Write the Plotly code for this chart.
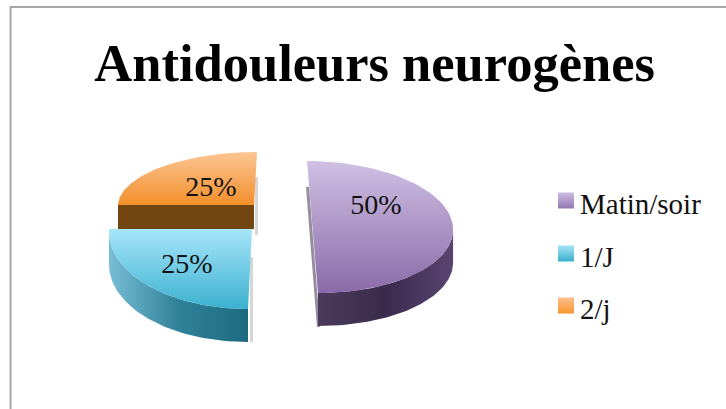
import numpy as np
import plotly.graph_objects as go

# chart data
categories = ["Matin/soir", "1/J", "2/j"]
values = [50, 25, 25]

TITLE = "Antidouleurs neurogènes"
FONT = "Liberation Serif"

# look of each slice, top gradient is top to bottom
top_colors = {
    "Matin/soir": ["#cfc0e3", "#8a6aa8"],
    "1/J": ["#a8e6fb", "#3bb0cf"],
    "2/j": ["#fcc594", "#f28f2b"],
}
legend_colors = {
    "Matin/soir": ["#cdbde0", "#9477b3"],
    "1/J": ["#a6e4f9", "#38afcc"],
    "2/j": ["#fdc08d", "#f7962f"],
}
wall_colors = {
    "Matin/soir": ["#5a4570", "#3a2a4c", "#4a3a5c"],
    "1/J": ["#78bdd6", "#2f8299", "#1d6a80"],
    "2/j": ["#734511", "#734511", "#734511"],
}

# perspective of the exploded 3D pie, in pixels of the page
geometry = {
    "Matin/soir": dict(cx=312.5, cy=227, a=140.5, b=66, skew=0.083, depth=33, label=(376, 207)),
    "1/J": dict(cx=252, cy=229, a=143, b=80, skew=-0.05, depth=33, label=(187, 266)),
    "2/j": dict(cx=254, cy=205, a=136, b=53, skew=-0.057, depth=24, label=(211, 189)),
}
legend_rows = [200.5, 253.5, 305.5]
LEGEND_SWATCH_X = 566
LEGEND_TEXT_X = 580
LEGEND_TEXT_DY = 6


def rim(g, t0, t1, n=60):
    # t is the clockwise angle from 12 o'clock
    t = np.radians(np.linspace(t0, t1, n))
    x = g["cx"] + g["a"] * np.sin(t) - g["skew"] * g["b"] * np.cos(t)
    y = g["cy"] - g["b"] * np.cos(t)
    return x, y


def poly(x, y, **kw):
    return go.Scatter(x=list(x), y=list(y), mode="lines", fill="toself", line=dict(width=0),
                      showlegend=False, hoverinfo="skip", **kw)


def gradient(kind, colors):
    stops = np.linspace(0, 1, len(colors))
    return dict(type=kind, colorscale=[[float(s), c] for s, c in zip(stops, colors)])


# slice angles come from the shares
angles = {}
start = 0
for name, v in zip(categories, values):
    angles[name] = (start, start + v / sum(values) * 360)
    start = angles[name][1]

fig = go.Figure()

# back to front: orange, purple, blue
for name in ["2/j", "Matin/soir", "1/J"]:
    g = geometry[name]
    t0, t1 = angles[name]
    x, y = rim(g, t0, t1)
    px = np.r_[g["cx"], x]
    py = np.r_[g["cy"], y]

    # soft shadow next to the slice
    if name == "Matin/soir":
        sx, sy = rim(g, t0, 180, 2)
        fig.add_trace(poly([sx[0] - 1, sx[1] - 1, sx[1] + 2, sx[0] + 2],
                           [sy[0] + 26, sy[1] + g["depth"] + 1, sy[1] + g["depth"] + 1, sy[0] + 26],
                           fillcolor="rgba(60,50,75,0.55)"))
    elif name == "2/j":
        fig.add_trace(poly([g["cx"] + 1, g["cx"] + 4, g["cx"] + 4, g["cx"] + 1],
                           [g["cy"] - 28, g["cy"] - 28, g["cy"] + 30, g["cy"] + 30],
                           fillcolor="rgba(120,120,120,0.3)"))
    else:
        fig.add_trace(poly([g["cx"] - 2, g["cx"] + 1, g["cx"] + 1, g["cx"] - 2],
                           [g["cy"] + 28, g["cy"] + 28, g["cy"] + g["b"] + g["depth"], g["cy"] + g["b"] + g["depth"]],
                           fillcolor="rgba(120,120,120,0.3)"))

    # wall under the visible rim
    if name == "Matin/soir":
        wx, wy = rim(g, 93, 180)
    elif name == "1/J":
        wx, wy = x, y
    else:
        wx, wy = rim(g, 270, 270, 1)
        wx = np.r_[g["cx"], wx]
        wy = np.r_[g["cy"], wy]
    fig.add_trace(poly(np.r_[wx, wx[::-1]], np.r_[wy, wy[::-1] + g["depth"]],
                       fillgradient=gradient("horizontal", wall_colors[name][::-1] if name == "Matin/soir" else wall_colors[name])))

    # top face
    fig.add_trace(poly(px, py, fillgradient=gradient("vertical", top_colors[name][::-1])))

# data labels
for name, v in zip(categories, values):
    lx, ly = geometry[name]["label"]
    fig.add_trace(go.Scatter(x=[lx], y=[ly], mode="text", text=[f"{v}%"], showlegend=False,
                             hoverinfo="skip", textfont=dict(family=FONT, size=28, color="#111111")))

# legend swatches and names, the native legend leaves too wide a gap between them
for name, row in zip(categories, legend_rows):
    c = legend_colors[name]
    fig.add_trace(go.Scatter(x=[LEGEND_SWATCH_X], y=[row], mode="markers", name=name, showlegend=False,
                             hoverinfo="skip",
                             marker=dict(symbol="square", size=16, color=c[0], line=dict(width=0),
                                         gradient=dict(type="vertical", color=c[1]))))
    fig.add_trace(go.Scatter(x=[LEGEND_TEXT_X], y=[row + LEGEND_TEXT_DY], mode="text", text=[name],
                             textposition="middle right", showlegend=False, hoverinfo="skip",
                             textfont=dict(family=FONT, size=29, color="#111111")))

fig.update_layout(
    width=726,
    height=409,
    margin=dict(l=0, r=0, t=0, b=0),
    paper_bgcolor="white",
    plot_bgcolor="white",
    xaxis=dict(range=[0, 726], visible=False, fixedrange=True),
    yaxis=dict(range=[409, 0], visible=False, fixedrange=True),
    title=dict(text=f"<b>{TITLE}</b>", x=0.516, xanchor="center", y=0.848, yanchor="middle",
               font=dict(family=FONT, size=52.5, color="black")),
    shapes=[dict(type="path", xref="paper", yref="paper",
                 path="M 0.0145 0 L 0.0145 0.983 L 1 0.983",
                 line=dict(color="#a6a6a6", width=2))],
)

fig.write_html("out.html", config=dict(displayModeBar=False),
               post_script="document.body.style.margin='0';")
